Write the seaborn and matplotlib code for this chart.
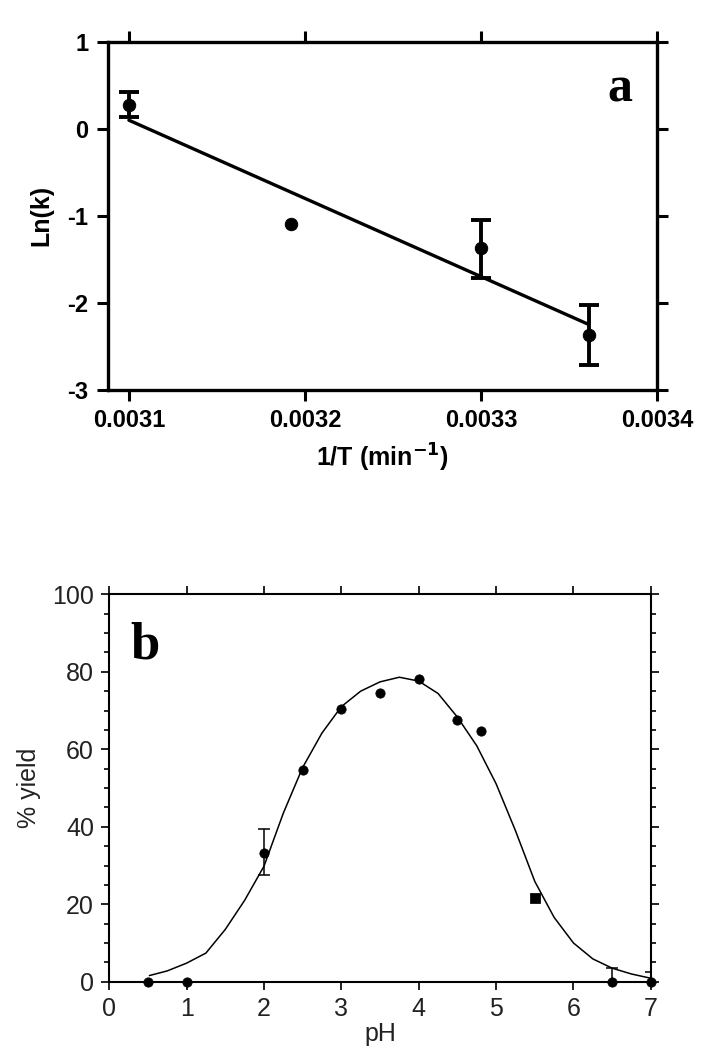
import numpy as np
import pandas as pd
import matplotlib
matplotlib.use("Agg")
import matplotlib.pyplot as plt
from matplotlib.ticker import MultipleLocator
import seaborn as sns

# --- panel a: Arrhenius data ---
inv_T = [0.00310, 0.003192, 0.00330, 0.003361]
ln_k = [0.28, -1.10, -1.37, -2.37]
ln_k_hi = [0.42, np.nan, -1.05, -2.03]
ln_k_lo = [0.14, np.nan, -1.72, -2.72]
fit_x = [0.00310, 0.003361]
fit_y = [0.10, -2.25]
a_xticks = [0.0031, 0.0032, 0.0033, 0.0034]
a_xticklabels = ["0.0031", "0.0032", "0.0033", "0.0034"]
a_yticks = [1, 0, -1, -2, -3]

# --- panel b: pH profile ---
ph = [0.5, 1.0, 2.0, 2.5, 3.0, 3.5, 4.0, 4.5, 4.8, 6.5, 7.0]
yld = [0, 0, 33.3, 54.7, 70.4, 74.6, 78.1, 67.6, 64.6, 0, 0]
ph_sq = [5.5]
yld_sq = [21.6]
err_ph = [2.0, 6.5, 7.0]
err_mid = [33.3, 0, 0]
err_hi = [39.3, 3.5, 2.5]
err_lo = [27.5, 0, 0]
curve_ph = [0.52, 0.75, 1.0, 1.25, 1.5, 1.75, 2.0, 2.25, 2.5, 2.75, 3.0, 3.25,
            3.5, 3.75, 4.0, 4.25, 4.5, 4.75, 5.0, 5.25, 5.5, 5.75, 6.0, 6.25,
            6.5, 6.75, 7.0]
curve_y = [1.6, 2.8, 4.8, 7.4, 13.5, 21, 29.8, 43.5, 55.3, 64.2, 71.0, 75.0,
           77.4, 78.6, 77.6, 74.4, 68.3, 60.9, 51.1, 39.0, 25.9, 16.6, 10.0, 5.9,
           3.5, 2.0, 0.9]

sns.set_style("ticks")
plt.rcParams["font.family"] = ["Liberation Sans", "DejaVu Sans"]
plt.rcParams["axes.unicode_minus"] = False
plt.rcParams["text.color"] = "black"
plt.rcParams["axes.labelcolor"] = "black"
plt.rcParams["xtick.color"] = "black"
plt.rcParams["ytick.color"] = "black"
plt.rcParams["axes.edgecolor"] = "black"

fig = plt.figure(figsize=(7.09, 10.5), dpi=100)
ax1 = fig.add_axes([0.152, 0.629, 0.775, 0.331])
ax2 = fig.add_axes([0.154, 0.065, 0.764, 0.369])

# ---------------- panel a ----------------
dfa = pd.DataFrame({"x": inv_T, "y": ln_k})
sns.lineplot(x=fit_x, y=fit_y, ax=ax1, color="black", lw=2.4)
yerr = [np.array(ln_k) - np.array(ln_k_lo), np.array(ln_k_hi) - np.array(ln_k)]
ax1.errorbar(inv_T, ln_k, yerr=yerr, fmt="none", ecolor="black",
             elinewidth=2.8, capsize=7, capthick=2.8)
sns.scatterplot(data=dfa, x="x", y="y", ax=ax1, color="black", s=80,
                edgecolor="black", zorder=5)
ax1.set_xlim(0.003088, 0.00340)
ax1.set_ylim(-3, 1)
ax1.set_xticks(a_xticks)
ax1.set_xticklabels(a_xticklabels)
ax1.set_yticks(a_yticks)
ax1.tick_params(direction="out", length=8, width=2.2, top=True, right=True,
                labelsize=17, pad=6)
for lab in ax1.get_xticklabels() + ax1.get_yticklabels():
    lab.set_fontweight("bold")
for sp in ax1.spines.values():
    sp.set_visible(True)
    sp.set_linewidth(2.4)
ax1.set_xlabel("1/T (min$^{\\mathbf{-1}}$)", fontsize=18, fontweight="bold", labelpad=7)
ax1.set_ylabel("Ln(k)", fontsize=18, fontweight="bold", labelpad=10)
ax1.text(0.955, 0.93, "a", transform=ax1.transAxes, ha="right", va="top",
         fontsize=36, fontweight="bold", family="Liberation Serif")

# ---------------- panel b ----------------
sns.lineplot(x=curve_ph, y=curve_y, ax=ax2, color="black", lw=1.1)
ax2.errorbar(err_ph, err_mid,
             yerr=[np.array(err_mid) - np.array(err_lo),
                   np.array(err_hi) - np.array(err_mid)],
             fmt="none", ecolor="black", elinewidth=1.1, capsize=4, capthick=1.1)
sns.scatterplot(x=ph, y=yld, ax=ax2, color="black", s=45, edgecolor="black",
                zorder=5)
sns.scatterplot(x=ph_sq, y=yld_sq, ax=ax2, color="black", s=45, marker="s",
                edgecolor="black", zorder=5)
for c in ax2.collections:
    c.set_clip_on(False)
ax2.set_xlim(0, 7)
ax2.set_ylim(0, 100)
ax2.xaxis.set_major_locator(MultipleLocator(1))
ax2.yaxis.set_major_locator(MultipleLocator(20))
ax2.yaxis.set_minor_locator(MultipleLocator(5))
ax2.tick_params(which="major", direction="out", length=6, width=1.4,
                top=True, right=True, labelsize=18, pad=5, colors="#222222")
ax2.tick_params(which="minor", direction="out", length=3.5, width=1.2,
                top=False, right=True, bottom=False)
for sp in ax2.spines.values():
    sp.set_visible(True)
    sp.set_linewidth(1.5)
ax2.set_xlabel("pH", fontsize=18, labelpad=1, color="#222222")
ax2.set_ylabel("% yield", fontsize=18, labelpad=8, color="#222222")
ax2.text(0.04, 0.93, "b", transform=ax2.transAxes, ha="left", va="top",
         fontsize=38, fontweight="bold", family="Liberation Serif")

fig.savefig("out.png", dpi=100)
